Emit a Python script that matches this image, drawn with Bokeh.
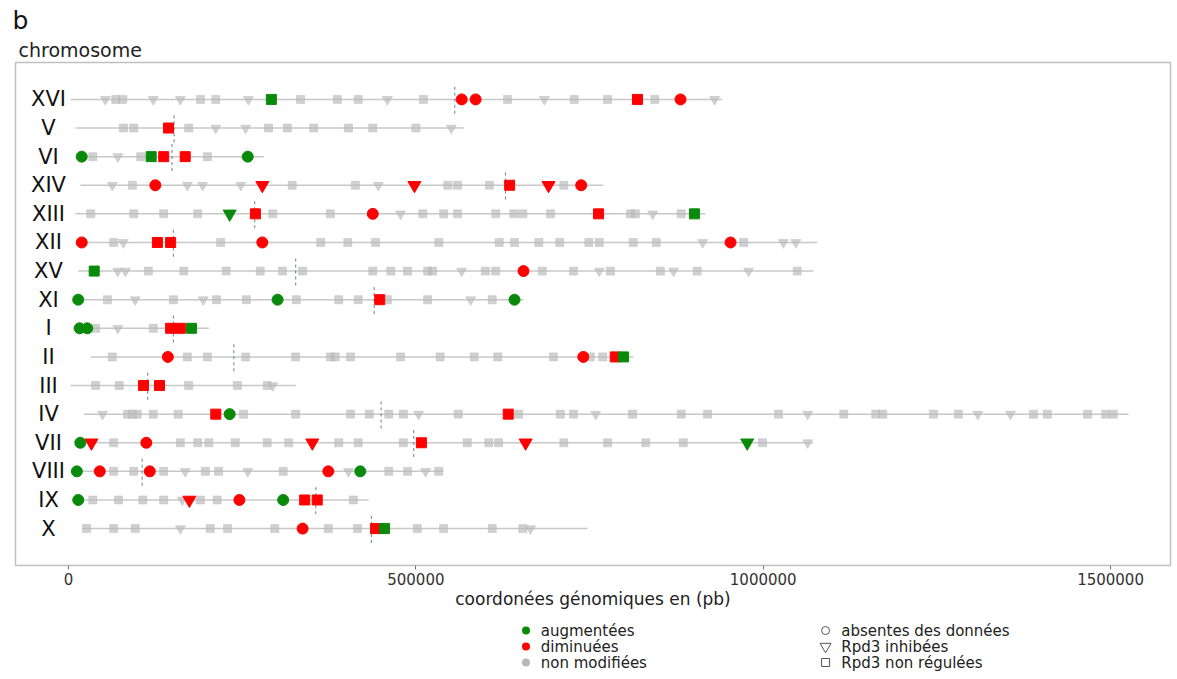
from bokeh.plotting import figure
from bokeh.models import Range1d, FixedTicker, Title, BasicTickFormatter, ColumnDataSource
from bokeh.layouts import column
from bokeh.embed import file_html
from bokeh.resources import INLINE
from bokeh.core.properties import value

FONT = "DejaVu Sans"

chrom_names = ["XVI", "V", "VI", "XIV", "XIII", "XII", "XV", "XI",
               "I", "II", "III", "IV", "VII", "VIII", "IX", "X"]
chrom_start_kb = [3, 10, 13, 17, 10, 14, 14, 10, 10, 32, 3, 22, 10, 3, 10, 20]
chrom_end_kb = [941, 569, 281, 770, 917, 1078, 1072, 655, 202, 813, 327, 1526, 1072, 540, 432, 747]
centromere_kb = [556, 152, 149, 629, 268, 151, 327, 440, 151, 238, 114, 450, 497, 106, 356, 436]

# (position in kb, status, shape)  status: up / down / ns ; shape: o / v / s
genes_XVI = [(53, "ns", "v"), (68, "ns", "s"), (78, "ns", "s"), (122, "ns", "v"), (161, "ns", "v"),
             (190, "ns", "s"), (212, "ns", "s"), (259, "ns", "v"), (292, "up", "s"), (334, "ns", "s"),
             (387, "ns", "s"), (417, "ns", "s"), (459, "ns", "v"), (511, "ns", "s"), (566, "down", "o"),
             (586, "down", "o"), (632, "ns", "s"), (685, "ns", "v"), (728, "ns", "s"), (776, "ns", "s"),
             (819, "down", "s"), (844, "ns", "s"), (881, "down", "o"), (930, "ns", "v")]
genes_V = [(79, "ns", "s"), (94, "ns", "s"), (144, "down", "s"), (173, "ns", "s"), (212, "ns", "v"),
           (255, "ns", "v"), (288, "ns", "s"), (315, "ns", "s"), (353, "ns", "s"), (403, "ns", "s"),
           (438, "ns", "s"), (500, "ns", "s"), (551, "ns", "v")]
genes_VI = [(19, "up", "o"), (35, "ns", "s"), (71, "ns", "v"), (104, "ns", "s"), (119, "up", "s"),
            (137, "down", "s"), (168, "down", "s"), (200, "ns", "s"), (258, "up", "o")]
genes_XIV = [(63, "ns", "v"), (92, "ns", "s"), (125, "down", "o"), (171, "ns", "v"), (193, "ns", "v"),
             (248, "ns", "v"), (279, "down", "v"), (322, "ns", "s"), (413, "ns", "s"), (446, "ns", "v"),
             (498, "down", "v"), (546, "ns", "s"), (560, "ns", "s"), (606, "ns", "s"), (635, "down", "s"),
             (691, "down", "v"), (713, "ns", "s"), (738, "down", "o")]
genes_XIII = [(32, "ns", "s"), (94, "ns", "s"), (137, "ns", "s"), (186, "ns", "s"), (232, "up", "v"),
              (269, "down", "s"), (294, "ns", "s"), (377, "ns", "s"), (438, "down", "o"), (478, "ns", "v"),
              (510, "ns", "s"), (540, "ns", "s"), (560, "ns", "s"), (615, "ns", "s"), (641, "ns", "s"),
              (654, "ns", "s"), (694, "ns", "s"), (763, "down", "s"), (809, "ns", "s"), (816, "ns", "s"),
              (841, "ns", "v"), (882, "ns", "s"), (901, "up", "s")]
genes_XII = [(19, "down", "o"), (65, "ns", "s"), (79, "ns", "v"), (128, "down", "s"), (147, "down", "s"),
             (219, "ns", "s"), (279, "down", "o"), (363, "ns", "s"), (402, "ns", "s"), (442, "ns", "s"),
             (533, "ns", "s"), (620, "ns", "s"), (642, "ns", "s"), (677, "ns", "s"), (707, "ns", "s"),
             (749, "ns", "s"), (764, "ns", "s"), (813, "ns", "s"), (846, "ns", "s"), (913, "ns", "v"),
             (953, "down", "o"), (972, "ns", "s"), (1029, "ns", "v"), (1047, "ns", "v")]
genes_XV = [(37, "up", "s"), (71, "ns", "v"), (82, "ns", "v"), (115, "ns", "s"), (166, "ns", "s"),
            (227, "ns", "s"), (276, "ns", "s"), (308, "ns", "s"), (337, "ns", "s"), (438, "ns", "s"),
            (464, "ns", "s"), (488, "ns", "s"), (517, "ns", "s"), (524, "ns", "s"), (566, "ns", "v"),
            (600, "ns", "s"), (615, "ns", "s"), (655, "down", "o"), (682, "ns", "s"), (727, "ns", "s"),
            (764, "ns", "v"), (780, "ns", "s"), (852, "ns", "s"), (871, "ns", "v"), (905, "ns", "s"),
            (979, "ns", "v"), (1049, "ns", "s")]
genes_XI = [(14, "up", "o"), (56, "ns", "s"), (96, "ns", "v"), (151, "ns", "s"), (194, "ns", "v"),
            (213, "ns", "s"), (256, "ns", "s"), (301, "up", "o"), (328, "ns", "s"), (389, "ns", "s"),
            (417, "ns", "s"), (459, "ns", "s"), (448, "down", "s"), (517, "ns", "s"), (579, "ns", "v"),
            (610, "ns", "s"), (642, "up", "o")]
genes_I = [(16, "up", "o"), (27, "up", "o"), (39, "ns", "s"), (71, "ns", "v"), (122, "ns", "s"),
           (147, "down", "s"), (161, "down", "s"), (177, "up", "s")]
genes_II = [(63, "ns", "s"), (143, "down", "o"), (171, "ns", "s"), (200, "ns", "s"), (255, "ns", "s"),
            (327, "ns", "s"), (377, "ns", "s"), (384, "ns", "s"), (406, "ns", "s"), (478, "ns", "s"),
            (535, "ns", "s"), (584, "ns", "s"), (618, "ns", "s"), (698, "ns", "s"), (751, "ns", "s"),
            (741, "down", "o"), (769, "ns", "s"), (787, "down", "s"), (799, "up", "s")]
genes_III = [(39, "ns", "s"), (73, "ns", "s"), (108, "down", "s"), (131, "down", "s"), (173, "ns", "s"),
             (243, "ns", "s"), (286, "ns", "s"), (294, "ns", "v")]
genes_IV = [(49, "ns", "v"), (85, "ns", "s"), (92, "ns", "s"), (99, "ns", "s"), (122, "ns", "s"),
            (158, "ns", "s"), (212, "down", "s"), (232, "up", "o"), (252, "ns", "s"), (327, "ns", "s"),
            (406, "ns", "s"), (433, "ns", "s"), (461, "ns", "s"), (482, "ns", "s"), (504, "ns", "v"),
            (561, "ns", "s"), (648, "ns", "s"), (633, "down", "s"), (708, "ns", "s"), (727, "ns", "s"),
            (759, "ns", "v"), (812, "ns", "s"), (882, "ns", "s"), (920, "ns", "s"), (1022, "ns", "s"),
            (1064, "ns", "v"), (1116, "ns", "s"), (1162, "ns", "s"), (1172, "ns", "s"), (1245, "ns", "s"),
            (1281, "ns", "s"), (1309, "ns", "v"), (1356, "ns", "v"), (1389, "ns", "s"), (1409, "ns", "s"),
            (1467, "ns", "s"), (1493, "ns", "s"), (1504, "ns", "s")]
genes_VII = [(17, "up", "o"), (33, "down", "v"), (65, "ns", "s"), (112, "down", "o"), (161, "ns", "s"),
             (186, "ns", "s"), (202, "ns", "s"), (240, "ns", "s"), (286, "ns", "s"), (317, "ns", "s"),
             (351, "down", "v"), (389, "ns", "s"), (417, "ns", "s"), (482, "ns", "s"), (508, "down", "s"),
             (574, "ns", "s"), (605, "ns", "s"), (619, "ns", "s"), (658, "down", "v"), (713, "ns", "s"),
             (776, "ns", "s"), (831, "ns", "s"), (885, "ns", "s"), (977, "up", "v"), (999, "ns", "s"),
             (1064, "ns", "v")]
genes_VIII = [(12, "up", "o"), (45, "down", "o"), (65, "ns", "s"), (94, "ns", "s"), (117, "down", "o"),
              (137, "ns", "s"), (168, "ns", "v"), (197, "ns", "s"), (216, "ns", "s"), (258, "ns", "v"),
              (309, "ns", "s"), (374, "down", "o"), (403, "ns", "v"), (420, "up", "o"), (461, "ns", "s"),
              (488, "ns", "s"), (514, "ns", "v"), (533, "ns", "s")]
genes_IX = [(14, "up", "o"), (35, "ns", "s"), (72, "ns", "s"), (107, "ns", "s"), (137, "ns", "s"),
            (164, "ns", "v"), (190, "ns", "s"), (214, "ns", "s"), (174, "down", "v"), (246, "down", "o"),
            (309, "up", "o"), (340, "down", "s"), (358, "down", "s"), (410, "ns", "s")]
genes_X = [(26, "ns", "s"), (65, "ns", "s"), (96, "ns", "s"), (161, "ns", "v"), (204, "ns", "s"),
           (229, "ns", "s"), (297, "ns", "s"), (337, "down", "o"), (374, "ns", "s"), (416, "ns", "s"),
           (442, "down", "s"), (455, "up", "s"), (502, "ns", "s"), (540, "ns", "s"), (610, "ns", "s"),
           (654, "ns", "s"), (665, "ns", "v")]

genes_by_chrom = [genes_XVI, genes_V, genes_VI, genes_XIV, genes_XIII, genes_XII, genes_XV, genes_XI,
                  genes_I, genes_II, genes_III, genes_IV, genes_VII, genes_VIII, genes_IX, genes_X]

status_labels = ["augmentées", "diminuées", "non modifiées"]
shape_labels = ["absentes des données", "Rpd3 inhibées", "Rpd3 non régulées"]

status_color = {"up": "#0a8a0a", "down": "#ff0000", "ns": "#b9b9b9"}
shape_marker = {"o": "circle", "v": "inverted_triangle", "s": "square"}

n = len(chrom_names)
row_y = [n - i for i in range(n)]  # XVI at top

# ---------------- main figure ----------------
p = figure(width=1172, height=613, output_backend="svg", toolbar_location=None,
           x_range=Range1d(-76300, 1586300), y_range=Range1d(-0.29, 17.29),
           min_border_left=15, min_border_right=2, min_border_top=62, min_border_bottom=48)
p.grid.visible = False
p.outline_line_color = "#c0c0c0"
p.outline_line_width = 1.5
p.background_fill_color = "white"
p.border_fill_color = "white"
p.yaxis.visible = False

p.xaxis.ticker = FixedTicker(ticks=[0, 500000, 1000000, 1500000])
p.xaxis.formatter = BasicTickFormatter(use_scientific=False)
p.xaxis.axis_line_color = None
p.xaxis.major_tick_line_color = "#777777"
p.xaxis.major_tick_out = 4
p.xaxis.major_tick_in = 0
p.xaxis.minor_tick_line_color = None
p.xaxis.major_label_text_font = FONT
p.xaxis.major_label_text_font_size = "15px"
p.xaxis.major_label_text_color = "#333333"
p.xaxis.major_label_standoff = 3
p.xaxis.axis_label = "coordonées génomiques en (pb)"
p.xaxis.axis_label_text_font = FONT
p.xaxis.axis_label_text_font_size = "17px"
p.xaxis.axis_label_text_font_style = "normal"
p.xaxis.axis_label_text_color = "#222222"
p.xaxis.axis_label_standoff = 1

t1 = Title(text="chromosome", text_font=FONT, text_font_size="19px", text_font_style="normal",
           text_color="#222222", align="left", offset=3, standoff=4)
p.add_layout(t1, "above")
t2 = Title(text="b", text_font=FONT, text_font_size="25px", text_font_style="normal",
           text_color="#111111", align="left", offset=-3, standoff=0)
p.add_layout(t2, "above")

# chromosome lines
p.segment(x0=[s * 1000 for s in chrom_start_kb], y0=row_y,
          x1=[e * 1000 for e in chrom_end_kb], y1=row_y,
          line_color="#c8c8c8", line_width=1.5)

# centromeres
p.segment(x0=[c * 1000 for c in centromere_kb], y0=[y - 0.5 for y in row_y],
          x1=[c * 1000 for c in centromere_kb], y1=[y + 0.5 for y in row_y],
          line_color="#5f7590", line_width=1.1, line_dash="3 3", line_alpha=0.85)

# chromosome labels
p.text(x=[-28800] * n, y=row_y, text=chrom_names, text_font=value(FONT),
       text_font_size="21px", text_align="center", text_baseline="middle", text_color="#111111")

# genes
sizes_ns = {"o": 8, "v": 10, "s": 8}
sizes_col = {"o": 11, "v": 13, "s": 10}
for layer in ["ns", "col"]:
    for shp in ["s", "o", "v"]:
        xs, ys, cols = [], [], []
        for yv, genes in zip(row_y, genes_by_chrom):
            for pos, st, sh in genes:
                if sh != shp:
                    continue
                if (layer == "ns") != (st == "ns"):
                    continue
                xs.append(pos * 1000)
                ys.append(yv)
                cols.append(status_color[st])
        if not xs:
            continue
        src = ColumnDataSource(dict(x=xs, y=ys, c=cols))
        if layer == "ns":
            p.scatter("x", "y", source=src, marker=shape_marker[shp], size=sizes_ns[shp],
                      fill_color="c", line_color="c", fill_alpha=0.65, line_alpha=0.45)
        else:
            p.scatter("x", "y", source=src, marker=shape_marker[shp], size=sizes_col[shp],
                      fill_color="c", line_color="c")

# ---------------- legend figure ----------------
lg = figure(width=1172, height=62, output_backend="svg", toolbar_location=None,
            x_range=Range1d(0, 1172), y_range=Range1d(62, 0),
            min_border=0, min_border_left=0, min_border_right=0, min_border_top=0, min_border_bottom=0)
lg.axis.visible = False
lg.grid.visible = False
lg.outline_line_color = None

rows = [17, 33, 49]
lg.scatter(x=[518] * 3, y=rows, marker="circle", size=8,
           fill_color=[status_color["up"], status_color["down"], status_color["ns"]],
           line_color=None)
lg.text(x=[533] * 3, y=rows, text=status_labels, text_font=value(FONT), text_font_size="15px",
        text_baseline="middle", text_align="left", text_color="#222222")
lg.scatter(x=[822] * 3, y=rows, marker=["circle", "inverted_triangle", "square"], size=[8, 11, 8],
           fill_color=None, line_color="#555555", line_width=1)
lg.text(x=[838] * 3, y=rows, text=shape_labels, text_font=value(FONT), text_font_size="15px",
        text_baseline="middle", text_align="left", text_color="#222222")

layout = column(p, lg, spacing=0)
open("out.html", "w").write(file_html(layout, INLINE))
